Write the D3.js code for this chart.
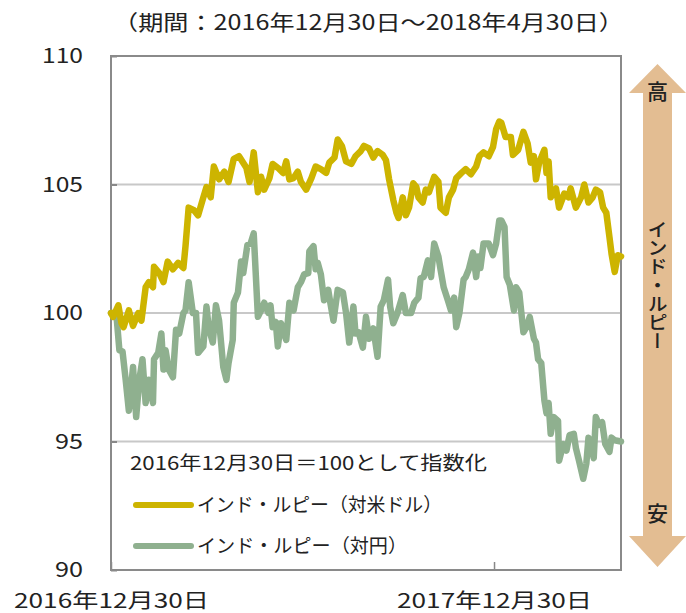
<!DOCTYPE html>
<html>
<head>
<meta charset="utf-8">
<script src="https://cdn.jsdelivr.net/npm/d3@7"></script>
<style>
  body { margin: 0; background: #fff; }
  text { font-family: "Noto Sans CJK JP", "Noto Sans", sans-serif; fill: #222; }
</style>
</head>
<body>
<svg id="chart" width="686" height="613"></svg>
<script>
// index, 2016-12-30 = 100
var startDate = new Date(2016, 11, 30)
var endDate = new Date(2018, 3, 30)

// days since start date, and index values
var usdDays = [0, 2, 7, 10, 12, 17, 21, 26, 29, 33, 36, 40, 41, 46, 50, 54, 59, 64, 69, 71, 74, 79, 83, 88, 91, 95, 98, 103, 108, 112, 117, 122, 129, 132, 136, 140, 143, 146, 151, 154, 159, 164, 167, 170, 174, 178, 181, 186, 191, 195, 200, 205, 208, 213, 216, 220, 224, 229, 233, 238, 241, 246, 250, 254, 259, 262, 265, 269, 272, 274, 278, 281, 284, 288, 291, 293, 297, 300, 303, 308, 312, 314, 319, 322, 326, 329, 334, 338, 343, 348, 351, 355, 360, 364, 367, 370, 372, 376, 381, 383, 388, 393, 397, 400, 403, 405, 408, 413, 415, 417, 419, 424, 427, 432, 436, 438, 443, 448, 451, 455, 459, 462, 466, 469, 472, 475, 477, 480, 483, 486]
var usdValues = [100, 99.85, 100.3, 99.6, 99.45, 100.1, 99.5, 100.0, 99.7, 101.0, 101.2, 101.0, 101.8, 101.55, 101.2, 102.0, 101.7, 101.95, 101.75, 102.6, 104.1, 104.0, 103.8, 104.5, 104.9, 104.5, 105.7, 105.2, 105.5, 105.1, 106.0, 106.1, 105.65, 105.1, 106.25, 104.7, 105.3, 104.8, 105.25, 105.8, 105.65, 105.45, 105.9, 105.2, 105.25, 105.5, 105.1, 104.8, 105.25, 105.7, 105.6, 105.45, 105.85, 106.05, 106.75, 106.5, 105.9, 105.8, 106.1, 106.3, 106.5, 106.4, 106.05, 106.3, 106.15, 105.95, 105.2, 104.4, 103.9, 103.7, 104.5, 103.8, 104.1, 105.05, 104.9, 104.5, 104.3, 104.8, 104.7, 105.3, 105.1, 104.1, 103.9, 104.5, 104.8, 105.25, 105.45, 105.6, 105.4, 105.7, 106.1, 106.25, 106.1, 106.45, 107.15, 107.45, 107.4, 106.85, 106.85, 106.15, 106.35, 107.05, 106.6, 105.85, 106.1, 105.2, 105.85, 106.35, 105.45, 105.9, 104.5, 104.85, 104.1, 104.65, 104.5, 104.85, 104.1, 104.5, 105.0, 104.3, 104.5, 104.8, 104.7, 104.1, 103.9, 102.95, 102.3, 101.6, 102.25, 102.2]

var jpyDays = [0, 2, 5, 8, 11, 14, 17, 21, 24, 27, 30, 33, 36, 40, 41, 45, 48, 50, 52, 55, 59, 62, 65, 69, 71, 74, 78, 81, 83, 88, 91, 93, 97, 100, 103, 107, 110, 112, 116, 117, 121, 124, 126, 130, 133, 136, 140, 143, 146, 150, 152, 154, 157, 159, 162, 167, 170, 174, 178, 181, 184, 188, 189, 193, 195, 197, 200, 203, 207, 209, 212, 216, 221, 224, 227, 231, 233, 236, 240, 243, 246, 250, 254, 257, 260, 264, 266, 269, 273, 278, 281, 286, 289, 293, 295, 298, 302, 305, 308, 312, 314, 317, 321, 324, 327, 329, 332, 336, 338, 341, 345, 348, 350, 352, 355, 360, 364, 367, 370, 372, 375, 377, 380, 384, 386, 389, 393, 396, 399, 403, 405, 407, 410, 413, 415, 417, 419, 422, 426, 427, 431, 434, 437, 441, 443, 446, 450, 453, 455, 458, 460, 462, 465, 468, 471, 475, 477, 480, 486]
var jpyValues = [100, 100.0, 100.0, 98.55, 98.5, 97.4, 96.2, 97.9, 95.95, 97.4, 98.2, 96.5, 97.4, 96.5, 98.2, 98.45, 99.2, 97.8, 98.55, 97.8, 97.5, 99.35, 99.2, 100.0, 100.1, 101.2, 100.0, 100.0, 98.45, 98.7, 100.25, 99.45, 98.85, 100.3, 99.7, 97.9, 97.4, 98.05, 98.95, 100.4, 100.8, 102.0, 101.55, 102.65, 102.7, 103.1, 99.85, 100.1, 100.4, 100.0, 100.3, 99.45, 99.65, 98.7, 99.6, 98.95, 100.4, 100.1, 101.0, 101.2, 101.5, 101.55, 102.4, 102.6, 101.7, 101.95, 101.5, 100.5, 100.9, 100.4, 99.7, 100.9, 100.8, 100.0, 98.85, 100.25, 99.2, 99.25, 98.65, 99.85, 99.0, 99.4, 98.3, 100.25, 100.5, 101.3, 100.25, 99.6, 100.0, 100.7, 100.0, 100.0, 100.4, 100.6, 101.35, 101.4, 102.05, 101.4, 102.7, 102.2, 101.7, 101.0, 100.5, 100.1, 100.6, 99.45, 100.0, 101.3, 101.4, 101.7, 102.35, 101.4, 102.2, 101.75, 102.7, 102.7, 102.25, 102.7, 103.6, 103.6, 103.35, 101.4, 101.1, 100.1, 101.0, 100.8, 99.25, 99.45, 99.85, 99.0, 98.85, 98.2, 98.05, 96.6, 96.1, 96.5, 95.3, 95.95, 95.8, 94.25, 94.9, 94.65, 95.25, 95.3, 94.75, 94.25, 93.55, 94.15, 95.15, 94.8, 94.35, 95.95, 95.65, 95.75, 94.9, 94.6, 95.15, 95.05, 95.0]

var yTicks = [90, 95, 100, 105, 110]
var xTickDates = [new Date(2016, 11, 30), new Date(2017, 11, 30)]
var xTickLabels = ["2016年12月30日", "2017年12月30日"]

var titleText = "（期間：2016年12月30日～2018年4月30日）"
var noteText = "2016年12月30日＝100として指数化"
var seriesNames = ["インド・ルピー（対米ドル）", "インド・ルピー（対円）"]
var seriesColors = ["#cdb400", "#8fb08f"]

var svg = d3.select("#chart")

var x = d3.scaleTime()
  .domain([startDate, endDate])
  .range([111, 621])

var y = d3.scaleLinear()
  .domain([90, 110])
  .range([570, 56])

function toPoints(days, values){
  return days.map(function(d, i){
    return {date: d3.timeDay.offset(startDate, d), value: values[i]}
  })
}

var series = [
  toPoints(usdDays, usdValues),
  toPoints(jpyDays, jpyValues)
]

// title
svg.append("text")
  .attr("x", 113).attr("y", 30)
  .attr("font-size", 21)
  .attr("textLength", 511).attr("lengthAdjust", "spacingAndGlyphs")
  .text(titleText)

// grid
svg.append("g")
  .selectAll("line")
  .data([95, 100, 105])
  .enter()
  .append("line")
  .attr("x1", 111).attr("x2", 621)
  .attr("y1", function(d){return y(d)})
  .attr("y2", function(d){return y(d)})
  .attr("stroke", "#c8c8c8")
  .attr("stroke-width", 2)

// y axis
var yAxis = svg.append("g")
  .attr("transform", "translate(111,0)")
  .call(d3.axisLeft(y).tickValues(yTicks).tickSize(-6).tickPadding(28))

yAxis.select(".domain").remove()
yAxis.selectAll("line").attr("stroke", "#888").attr("stroke-width", 2)
yAxis.selectAll("text")
  .attr("font-size", 21)
  .attr("fill", "#222")
  .style("font-family", "'Noto Sans CJK JP', sans-serif")
  .attr("textLength", function(d){return d >= 100 ? 41 : 28})
  .attr("lengthAdjust", "spacingAndGlyphs")

// x axis
var xAxis = svg.append("g")
  .attr("transform", "translate(0,570)")
  .call(d3.axisBottom(x)
    .tickValues(xTickDates)
    .tickSize(-8)
    .tickPadding(24)
    .tickFormat(function(d, i){return xTickLabels[i]}))

xAxis.select(".domain").remove()
xAxis.selectAll("line").attr("stroke", "#888").attr("stroke-width", 1.5)
xAxis.selectAll("text")
  .attr("font-size", 20)
  .attr("fill", "#222")
  .style("font-family", "'Noto Sans CJK JP', sans-serif")
  .attr("textLength", 195)
  .attr("lengthAdjust", "spacingAndGlyphs")

// plot frame
svg.append("rect")
  .attr("x", 111).attr("y", 56)
  .attr("width", 510).attr("height", 514)
  .attr("fill", "none")
  .attr("stroke", "#8a8a8a")
  .attr("stroke-width", 2)

// lines
var line = d3.line()
  .x(function(d){return x(d.date)})
  .y(function(d){return y(d.value)})

svg.append("g")
  .selectAll("path")
  .data([series[1], series[0]])
  .enter()
  .append("path")
  .attr("d", line)
  .attr("fill", "none")
  .attr("stroke", function(d, i){return i == 0 ? seriesColors[1] : seriesColors[0]})
  .attr("stroke-width", 6.5)
  .attr("stroke-linejoin", "round")
  .attr("stroke-linecap", "round")

// note + legend
svg.append("text")
  .attr("x", 130).attr("y", 470)
  .attr("font-size", 19)
  .attr("textLength", 357).attr("lengthAdjust", "spacingAndGlyphs")
  .text(noteText)

var legend = svg.append("g")
  .selectAll("g")
  .data(seriesNames)
  .enter()
  .append("g")
  .attr("transform", function(d, i){return "translate(0," + (505 + i*41) + ")"})

legend.append("line")
  .attr("x1", 136).attr("x2", 191)
  .attr("stroke", function(d, i){return seriesColors[i]})
  .attr("stroke-width", 6)
  .attr("stroke-linecap", "round")

legend.append("text")
  .attr("x", 197).attr("y", 7)
  .attr("font-size", 19)
  .attr("textLength", function(d, i){return i == 0 ? 245 : 210})
  .attr("lengthAdjust", "spacingAndGlyphs")
  .text(function(d){return d})

// high / low arrow on the right
var ax = 657.5
var arrow = d3.path()
arrow.moveTo(ax, 64)
arrow.lineTo(ax + 28.5, 93)
arrow.lineTo(ax + 14.5, 93)
arrow.lineTo(ax + 14.5, 536)
arrow.lineTo(ax + 28.5, 536)
arrow.lineTo(ax, 567)
arrow.lineTo(ax - 28.5, 536)
arrow.lineTo(ax - 14.5, 536)
arrow.lineTo(ax - 14.5, 93)
arrow.lineTo(ax - 28.5, 93)
arrow.closePath()

svg.append("path")
  .attr("d", arrow.toString())
  .attr("fill", "#e3bd92")

svg.append("text")
  .attr("x", ax).attr("y", 99)
  .attr("text-anchor", "middle")
  .attr("font-size", 21)
  .attr("font-weight", 500)
  .text("高")

svg.append("text")
  .attr("x", ax).attr("y", 521)
  .attr("text-anchor", "middle")
  .attr("font-size", 21)
  .attr("font-weight", 500)
  .text("安")

svg.append("text")
  .attr("x", ax).attr("y", 220)
  .attr("font-size", 20)
  .attr("font-weight", 500)
  .style("writing-mode", "vertical-rl")
  .attr("textLength", 130)
  .attr("lengthAdjust", "spacingAndGlyphs")
  .text("インド・ルピー")
</script>
</body>
</html>
